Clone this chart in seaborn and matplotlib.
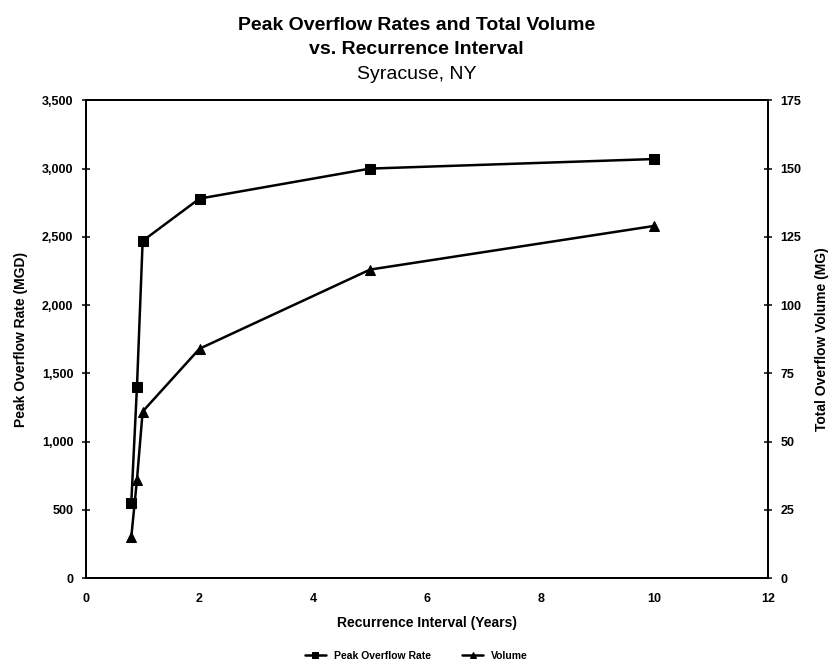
import matplotlib
matplotlib.use("Agg")
import matplotlib.pyplot as plt
import seaborn as sns
import pandas as pd
from matplotlib.ticker import FuncFormatter, MultipleLocator

# Data
recurrence_years = [0.8, 0.9, 1.0, 2.0, 5.0, 10.0]
peak_overflow_mgd = [550, 1400, 2470, 2780, 3000, 3070]
volume_mg = [15, 36, 61, 84, 113, 129]

sns.set_theme(style="white")
plt.rcParams['font.family'] = ['Liberation Sans', 'DejaVu Sans']
plt.rcParams['text.color'] = 'black'
plt.rcParams['axes.labelcolor'] = 'black'
plt.rcParams['xtick.color'] = 'black'
plt.rcParams['ytick.color'] = 'black'

df = pd.DataFrame({"x": recurrence_years, "peak": peak_overflow_mgd, "vol": volume_mg})

fig = plt.figure(figsize=(8.33, 6.69), dpi=100)
ax = fig.add_axes([0.103, 0.136, 0.819, 0.714])
ax2 = ax.twinx()

sns.lineplot(data=df, x="x", y="peak", ax=ax, color="black", marker="s",
             markersize=6.5, linewidth=1.8, markeredgecolor="black",
             label="Peak Overflow Rate", legend=False)
sns.lineplot(data=df, x="x", y="vol", ax=ax2, color="black", marker="^",
             markersize=6.5, linewidth=1.8, markeredgecolor="black",
             label="Volume", legend=False)

ax.set_xlim(0, 12)
ax.set_ylim(0, 3500)
ax2.set_ylim(0, 175)
ax.xaxis.set_major_locator(MultipleLocator(2))
ax.yaxis.set_major_locator(MultipleLocator(500))
ax2.yaxis.set_major_locator(MultipleLocator(25))
ax.yaxis.set_major_formatter(FuncFormatter(lambda v, p: f"{int(v):,}"))

for a in (ax, ax2):
    for s in a.spines.values():
        s.set_color("black")
        s.set_linewidth(1.3)
    a.tick_params(direction="inout", length=6, width=1.1, colors="black",
                  labelsize=9)
    for lbl in a.get_xticklabels() + a.get_yticklabels():
        lbl.set_fontweight("bold")
ax.tick_params(axis="x", pad=8)
ax.tick_params(axis="y", pad=6)
ax2.tick_params(axis="y", pad=6)

ax.set_xlabel("Recurrence Interval (Years)", fontsize=10, fontweight="bold",
              labelpad=8, color="black")
ax.set_ylabel("Peak Overflow Rate (MGD)", fontsize=10, fontweight="bold",
              labelpad=10, color="black")
ax2.set_ylabel("Total Overflow Volume (MG)", fontsize=10, fontweight="bold",
               labelpad=10, color="black")

fig.text(0.5, 0.975, "Peak Overflow Rates and Total Volume", ha="center", va="top",
         fontsize=14, fontweight="bold", color="black")
fig.text(0.5, 0.938, "vs. Recurrence Interval", ha="center", va="top",
         fontsize=14, fontweight="bold", color="black")
fig.text(0.5, 0.901, "Syracuse, NY", ha="center", va="top",
         fontsize=14, color="black")

h1, l1 = ax.get_legend_handles_labels()
h2, l2 = ax2.get_legend_handles_labels()
leg = fig.legend(h1 + h2, l1 + l2, loc="center", bbox_to_anchor=(0.5, 0.02),
                 ncol=2, frameon=False, fontsize=7.5, handlelength=2.0,
                 columnspacing=3, markerscale=0.7)
for t in leg.get_texts():
    t.set_fontweight("bold")
    t.set_color("black")

fig.savefig("out.png", dpi=100, facecolor="white")
